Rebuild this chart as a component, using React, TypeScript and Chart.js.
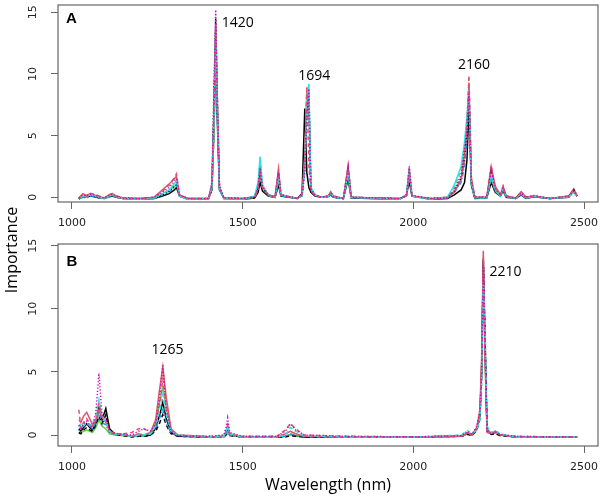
import React, { useEffect, useRef } from "react";
import { Chart, registerables } from "chart.js";

Chart.register(...registerables);

// ---------- tick labels ----------
const xTickValues = [1000, 1500, 2000, 2500];
const yTickValues = [0, 5, 10, 15];

// ---------- panel A ----------
const wavelengthA = [
  1020, 1032, 1042, 1054, 1066, 1080, 1095, 1108, 1118, 1130,
  1150, 1200, 1240, 1265, 1285, 1300, 1306, 1315, 1340, 1400,
  1410, 1416, 1421, 1426, 1432, 1445, 1500, 1535, 1545, 1551,
  1558, 1575, 1595, 1605, 1612, 1660, 1674, 1682, 1688, 1694,
  1700, 1712, 1730, 1750, 1758, 1766, 1795, 1809, 1818, 1960,
  1980, 1988, 1996, 2050, 2100, 2120, 2140, 2150, 2157, 2163,
  2170, 2180, 2215, 2228, 2240, 2255, 2263, 2272, 2300, 2316,
  2330, 2354, 2400, 2455, 2470, 2480,
];

const importanceA1 = [
  -0.15, 0.05, 0.0, 0.1, 0.05, -0.05, -0.1, 0.05, 0.1, 0.0,
  -0.1, -0.15, -0.1, 0.1, 0.3, 0.6, 0.8, 0.1, -0.15, -0.1,
  0.6, 5.5, 11.5, 6.0, 0.6, -0.1, -0.15, -0.05, 0.4, 1.2,
  0.5, 0.1, 0.0, 1.0, 0.1, -0.1, 0.3, 7.2, 2.0, 0.8,
  0.4, 0.1, 0.0, 0.05, 0.2, 0.0, -0.1, 1.5, -0.05, -0.15,
  0.2, 1.3, 0.1, -0.15, -0.1, 0.2, 0.6, 1.2, 3.0, 7.2,
  1.0, -0.1, -0.05, 1.2, 0.4, 0.1, 0.5, 0.0, -0.1, 0.2,
  -0.1, 0.05, -0.1, 0.0, 0.5, 0.1,
];
const importanceA2 = [
  -0.1, 0.25, 0.1, 0.3, 0.25, 0.1, -0.05, 0.2, 0.3, 0.1,
  -0.05, -0.1, 0.0, 0.5, 1.0, 1.6, 1.9, 0.2, -0.1, -0.1,
  1.0, 7.0, 14.0, 8.0, 0.8, -0.05, -0.1, 0.0, 0.7, 2.2,
  0.8, 0.2, 0.0, 2.2, 0.2, -0.1, 0.2, 3.0, 9.0, 2.5,
  0.5, 0.2, 0.0, 0.1, 0.4, 0.1, -0.1, 2.6, 0.0, -0.1,
  0.1, 2.0, 0.1, -0.1, -0.05, 0.5, 1.5, 3.0, 5.7, 9.9,
  1.5, 0.0, 0.0, 2.6, 0.8, 0.2, 0.9, 0.1, -0.05, 0.4,
  0.0, 0.1, -0.1, 0.1, 0.6, 0.1,
];
const importanceA3 = [
  -0.1, 0.1, 0.05, 0.2, 0.15, 0.0, -0.1, 0.1, 0.2, 0.05,
  -0.1, -0.15, -0.05, 0.3, 0.6, 1.1, 1.3, 0.1, -0.15, -0.1,
  0.9, 6.5, 13.5, 7.0, 0.7, -0.1, -0.15, 0.1, 1.2, 3.3,
  1.0, 0.2, 0.0, 1.6, 0.2, -0.1, 0.1, 2.5, 8.0, 9.2,
  0.8, 0.2, 0.0, 0.05, 0.3, 0.05, -0.1, 2.0, 0.0, -0.15,
  0.2, 2.2, 0.1, -0.15, 0.0, 1.0, 2.5, 4.5, 6.5, 8.7,
  1.2, 0.0, -0.05, 1.8, 0.6, 0.1, 0.7, 0.1, -0.1, 0.3,
  -0.05, 0.1, -0.1, 0.05, 0.4, 0.1,
];
const importanceA4 = [
  -0.05, 0.2, 0.1, 0.25, 0.2, 0.05, -0.05, 0.15, 0.25, 0.05,
  -0.1, -0.1, 0.0, 0.4, 0.8, 1.3, 1.5, 0.15, -0.1, -0.1,
  1.2, 8.0, 15.2, 7.5, 0.9, -0.05, -0.1, 0.05, 0.8, 2.4,
  0.9, 0.2, 0.05, 2.0, 0.2, -0.1, 0.2, 2.0, 6.5, 8.8,
  0.7, 0.2, 0.0, 0.1, 0.35, 0.05, -0.1, 2.4, 0.0, -0.1,
  0.15, 2.5, 0.15, -0.1, -0.05, 0.6, 1.8, 4.0, 5.5, 8.4,
  1.3, 0.0, 0.0, 2.2, 0.7, 0.15, 0.8, 0.1, -0.05, 0.35,
  0.0, 0.15, -0.1, 0.1, 0.5, 0.1,
];
const importanceA5 = [
  -0.15, 0.0, -0.05, 0.1, 0.05, -0.05, -0.1, 0.0, 0.1, 0.0,
  -0.1, -0.15, -0.1, 0.2, 0.4, 0.8, 1.0, 0.1, -0.15, -0.1,
  0.8, 6.0, 12.5, 6.5, 0.6, -0.1, -0.15, 0.0, 0.9, 2.8,
  0.8, 0.15, 0.0, 1.3, 0.15, -0.1, 0.15, 2.2, 7.0, 8.5,
  0.6, 0.15, 0.0, 0.05, 0.25, 0.0, -0.1, 1.8, -0.05, -0.15,
  0.15, 1.8, 0.1, -0.15, -0.05, 0.4, 1.2, 2.5, 4.5, 8.0,
  1.1, -0.05, -0.05, 1.5, 0.5, 0.1, 0.6, 0.05, -0.1, 0.25,
  -0.05, 0.05, -0.1, 0.0, 0.45, 0.05,
];
const importanceA6 = [
  -0.1, 0.05, 0.0, 0.15, 0.1, 0.0, -0.1, 0.05, 0.15, 0.0,
  -0.1, -0.15, -0.05, 0.25, 0.5, 0.9, 1.1, 0.1, -0.15, -0.1,
  0.7, 5.0, 13.0, 7.5, 0.7, -0.1, -0.15, 0.0, 0.6, 2.0,
  0.7, 0.15, 0.0, 1.5, 0.15, -0.1, 0.1, 2.6, 7.5, 8.2,
  0.7, 0.15, 0.0, 0.05, 0.3, 0.05, -0.1, 1.9, 0.0, -0.15,
  0.15, 2.1, 0.1, -0.15, 0.0, 0.8, 2.2, 3.8, 6.0, 8.5,
  1.0, -0.05, -0.05, 1.6, 0.5, 0.1, 0.5, 0.05, -0.1, 0.25,
  -0.05, 0.05, -0.1, 0.05, 0.4, 0.05,
];
const importanceA7 = [
  -0.1, 0.1, 0.05, 0.15, 0.1, 0.0, -0.05, 0.1, 0.15, 0.05,
  -0.05, -0.1, -0.05, 0.2, 0.5, 0.9, 1.0, 0.1, -0.1, -0.1,
  1.1, 9.0, 14.5, 6.8, 0.8, -0.05, -0.1, 0.0, 0.8, 2.5,
  0.8, 0.15, 0.0, 1.8, 0.2, -0.1, 0.2, 2.8, 7.0, 8.0,
  0.6, 0.15, 0.0, 0.05, 0.3, 0.05, -0.1, 2.2, 0.0, -0.1,
  0.2, 1.9, 0.1, -0.1, 0.0, 0.5, 1.6, 3.2, 5.0, 8.0,
  1.2, 0.0, 0.0, 2.0, 0.7, 0.15, 0.7, 0.1, -0.05, 0.3,
  0.0, 0.1, -0.1, 0.05, 0.6, 0.1,
];
const importanceA8 = [
  -0.05, 0.3, 0.15, 0.3, 0.2, 0.05, -0.05, 0.2, 0.3, 0.1,
  -0.05, -0.1, 0.0, 0.6, 1.1, 1.5, 1.7, 0.2, -0.1, -0.1,
  0.9, 6.8, 13.8, 7.8, 0.8, -0.05, -0.1, 0.05, 0.7, 2.0,
  0.9, 0.2, 0.05, 2.3, 0.2, -0.1, 0.25, 3.2, 8.6, 7.5,
  0.6, 0.2, 0.0, 0.1, 0.45, 0.1, -0.1, 2.5, 0.0, -0.1,
  0.1, 2.4, 0.1, -0.1, 0.0, 0.4, 1.4, 3.5, 5.8, 9.3,
  1.6, 0.0, 0.0, 2.5, 0.9, 0.2, 0.9, 0.1, -0.05, 0.45,
  0.0, 0.1, -0.1, 0.1, 0.7, 0.1,
];

// ---------- panel B ----------
const wavelengthB = [
  1020, 1026, 1034, 1043, 1052, 1060, 1070, 1079, 1088, 1099,
  1110, 1125, 1150, 1175, 1195, 1210, 1230, 1245, 1256, 1266,
  1276, 1290, 1310, 1400, 1445, 1451, 1456, 1462, 1500, 1600,
  1625, 1640, 1655, 1680, 1800, 2000, 2140, 2158, 2172, 2186,
  2195, 2200, 2205, 2210, 2216, 2228, 2240, 2255, 2300, 2400,
  2480,
];

const importanceB1 = [
  0.5, 0.3, 0.6, 0.9, 0.6, 0.4, 0.9, 2.2, 1.2, 2.1,
  0.5, 0.1, 0.0, -0.1, -0.1, -0.1, 0.0, 0.5, 1.5, 2.6,
  1.3, 0.2, -0.1, -0.15, -0.1, 0.2, 0.4, 0.0, -0.15, -0.15,
  -0.1, 0.0, -0.05, -0.15, -0.15, -0.15, -0.1, 0.1, 0.05, 0.5,
  1.5, 5.0, 14.0, 7.0, 0.3, 0.1, 0.15, 0.0, -0.15, -0.15,
  -0.15,
];
const importanceB2 = [
  1.2, 1.0, 1.5, 1.8, 1.3, 0.8, 1.2, 2.0, 1.4, 1.0,
  0.3, 0.1, 0.05, -0.1, 0.1, 0.0, 0.2, 1.2, 3.5, 5.4,
  3.0, 0.5, 0.0, -0.15, -0.1, 0.3, 0.8, 0.1, -0.15, -0.15,
  0.1, 0.3, 0.1, -0.1, -0.15, -0.15, -0.1, 0.2, 0.0, 0.6,
  2.0, 6.0, 14.6, 6.0, 0.2, 0.1, 0.3, 0.0, -0.15, -0.15,
  -0.15,
];
const importanceB3 = [
  0.8, 0.4, 0.9, 1.1, 0.8, 0.6, 1.8, 4.9, 1.6, 1.3,
  0.4, 0.15, 0.05, 0.0, 0.3, 0.5, 0.3, 0.9, 2.8, 5.6,
  2.0, 0.3, -0.05, -0.1, 0.0, 0.6, 1.35, 0.2, -0.1, -0.1,
  0.3, 0.9, 0.4, 0.0, -0.1, -0.15, -0.05, 0.3, 0.05, 0.7,
  1.8, 5.0, 13.5, 7.5, 0.4, 0.1, 0.25, 0.05, -0.1, -0.15,
  -0.15,
];
const importanceB4 = [
  2.0, 0.6, 1.0, 1.3, 0.9, 0.5, 1.1, 2.5, 1.5, 1.4,
  0.3, 0.1, 0.1, 0.2, 0.5, 0.5, 0.2, 0.8, 2.2, 4.4,
  2.4, 0.4, 0.0, -0.1, -0.1, 0.2, 0.5, 0.0, -0.1, -0.1,
  0.4, 0.9, 0.5, 0.0, -0.1, -0.15, -0.1, 0.1, 0.0, 0.5,
  1.6, 4.5, 12.8, 8.0, 0.5, 0.1, 0.2, 0.0, -0.1, -0.15,
  -0.15,
];
const importanceB5 = [
  0.6, 0.9, 0.7, 1.0, 0.8, 0.9, 1.6, 2.8, 1.5, 1.1,
  0.3, 0.1, 0.0, -0.1, 0.0, 0.0, 0.1, 0.7, 1.8, 3.2,
  1.6, 0.3, 0.0, -0.15, -0.1, 0.3, 0.7, 0.1, -0.15, -0.15,
  0.0, 0.6, 0.3, -0.05, -0.15, -0.15, 0.0, 0.35, 0.1, 0.4,
  1.2, 4.0, 12.0, 9.0, 0.7, 0.2, 0.35, 0.1, -0.15, -0.15,
  -0.15,
];
const importanceB6 = [
  0.1, 0.2, 0.3, 0.4, 0.3, 0.2, 0.6, 1.2, 0.7, 0.5,
  0.1, 0.0, -0.05, -0.1, -0.1, -0.1, 0.1, 0.9, 2.5, 3.8,
  2.2, 0.4, 0.0, -0.15, -0.15, 0.0, 0.2, 0.0, -0.15, -0.15,
  -0.1, 0.0, -0.05, -0.1, -0.15, -0.15, -0.1, 0.1, 0.0, 0.4,
  1.4, 5.5, 13.0, 6.5, 0.3, 0.1, 0.15, 0.0, -0.15, -0.15,
  -0.15,
];
const importanceB7 = [
  0.3, 0.5, 0.8, 0.9, 0.7, 0.5, 1.0, 1.8, 1.0, 0.8,
  0.2, 0.05, 0.0, -0.1, -0.05, -0.05, 0.1, 0.5, 1.3, 2.0,
  1.0, 0.2, -0.05, -0.15, -0.15, 0.1, 0.4, 0.0, -0.15, -0.15,
  -0.1, 0.1, 0.0, -0.1, -0.15, -0.15, -0.1, 0.2, 0.0, 0.5,
  1.6, 5.0, 13.2, 7.2, 0.4, 0.15, 0.3, 0.05, -0.15, -0.15,
  -0.15,
];
const importanceB8 = [
  0.2, 0.1, 0.4, 0.6, 0.4, 0.3, 0.8, 1.5, 0.9, 1.6,
  0.3, 0.05, -0.05, -0.15, -0.1, -0.1, 0.0, 0.3, 0.9, 1.6,
  0.8, 0.1, -0.1, -0.15, -0.15, 0.0, 0.1, -0.05, -0.15, -0.15,
  -0.15, -0.05, -0.1, -0.15, -0.15, -0.15, -0.1, 0.05, -0.05, 0.4,
  1.3, 4.5, 13.8, 7.8, 0.3, 0.05, 0.1, -0.05, -0.15, -0.15,
  -0.15,
];

// ---------- text labels (anchored in data units) ----------
const labelsA = [
  { text: "A", x: 998, y: 14.5, align: "center", bold: true },
  { text: "1420", x: 1439, y: 14.1, align: "left", bold: false },
  { text: "1694", x: 1710, y: 9.85, align: "center", bold: false },
  { text: "2160", x: 2178, y: 10.7, align: "center", bold: false },
];
const labelsB = [
  { text: "B", x: 1000, y: 13.75, align: "center", bold: true },
  { text: "1265", x: 1280, y: 6.75, align: "center", bold: false },
  { text: "2210", x: 2223, y: 12.95, align: "left", bold: false },
];

// ---------- styles ----------
const SOLID: number[] = [];
const DASHED = [4, 3];
const DOTTED = [1.2, 2];
const DOTDASH = [1, 2, 4, 2];

// first entry is drawn on top
const seriesA = [
  { values: importanceA4, color: "#CD0BBC", dash: DOTTED },
  { values: importanceA2, color: "#DF536B", dash: DASHED },
  { values: importanceA3, color: "#28E2E5", dash: SOLID },
  { values: importanceA7, color: "#000000", dash: DOTTED },
  { values: importanceA5, color: "#2297E6", dash: DOTDASH },
  { values: importanceA8, color: "#DF536B", dash: SOLID },
  { values: importanceA6, color: "#61D04F", dash: DASHED },
  { values: importanceA1, color: "#000000", dash: SOLID },
];
const seriesB = [
  { values: importanceB3, color: "#CD0BBC", dash: DOTTED },
  { values: importanceB5, color: "#28E2E5", dash: DASHED },
  { values: importanceB2, color: "#DF536B", dash: SOLID },
  { values: importanceB7, color: "#2297E6", dash: DOTDASH },
  { values: importanceB8, color: "#000000", dash: DASHED },
  { values: importanceB4, color: "#DF536B", dash: DASHED },
  { values: importanceB6, color: "#61D04F", dash: SOLID },
  { values: importanceB1, color: "#000000", dash: SOLID },
];

const AXIS_GRAY = "#666666";
const TICK_FONT = { family: "'DejaVu Sans', sans-serif", size: 11 };

const decorPlugin = {
  id: "panelDecor",
  afterDraw(chart: any, _args: any, opts: any) {
    const ctx = chart.ctx;
    const { left, top, right, bottom } = chart.chartArea;
    const xs = chart.scales.x;
    const ys = chart.scales.y;
    ctx.save();
    ctx.strokeStyle = AXIS_GRAY;
    ctx.lineWidth = 1.2;
    ctx.strokeRect(left, top, right - left, bottom - top);
    ctx.textBaseline = "middle";
    ctx.fillStyle = "#000";
    for (const l of opts.labels || []) {
      ctx.font = l.bold
        ? "bold 15px 'Liberation Sans', Arial, sans-serif"
        : "14px 'Open Sans', sans-serif";
      ctx.textAlign = l.align;
      ctx.fillText(l.text, xs.getPixelForValue(l.x), ys.getPixelForValue(l.y));
    }
    if (opts.yTitle) {
      ctx.translate(12, 250);
      ctx.rotate(-Math.PI / 2);
      ctx.textAlign = "center";
      ctx.font = "16px 'Open Sans', sans-serif";
      ctx.fillText(opts.yTitle, 0, 0);
    }
    ctx.restore();
  },
};

function makeConfig(p: {
  wavelength: number[];
  series: { values: number[]; color: string; dash: number[] }[];
  yMin: number;
  yMax: number;
  padTop: number;
  padBottom: number;
  xAxisHeight: number;
  labels: any[];
  xTitle?: string;
  yTitle?: string;
}): any {
  return {
    type: "line",
    data: {
      datasets: p.series.map((s) => ({
        data: p.wavelength.map((x, i) => ({ x, y: s.values[i] })),
        borderColor: s.color,
        borderDash: s.dash,
        borderWidth: 1.5,
        pointRadius: 0,
        tension: 0,
        fill: false,
      })),
    },
    options: {
      animation: false,
      responsive: false,
      events: [],
      layout: { padding: { top: p.padTop, right: 4, bottom: p.padBottom, left: 0 } },
      plugins: {
        legend: { display: false },
        tooltip: { enabled: false },
        panelDecor: { labels: p.labels, yTitle: p.yTitle },
      },
      scales: {
        x: {
          type: "linear",
          min: 959,
          max: 2541,
          afterBuildTicks: (s: any) => {
            s.ticks = xTickValues.map((v) => ({ value: v }));
          },
          afterFit: (s: any) => {
            s.height = p.xAxisHeight;
            s.paddingLeft = 0;
            s.paddingRight = 0;
          },
          border: { display: false },
          grid: {
            drawOnChartArea: false,
            drawTicks: true,
            tickLength: 7,
            tickColor: AXIS_GRAY,
            tickWidth: 1,
          },
          ticks: {
            padding: 8,
            color: "#222",
            font: TICK_FONT,
            maxRotation: 0,
            autoSkip: false,
            callback: (v: any) => String(v),
          },
          title: {
            display: !!p.xTitle,
            text: p.xTitle || "",
            color: "#000",
            font: { family: "'Open Sans', sans-serif", size: 16 },
            padding: { top: 0, bottom: 3 },
          },
        },
        y: {
          type: "linear",
          min: p.yMin,
          max: p.yMax,
          afterBuildTicks: (s: any) => {
            s.ticks = yTickValues.map((v) => ({ value: v }));
          },
          afterFit: (s: any) => {
            s.width = 58;
            s.paddingTop = 0;
            s.paddingBottom = 0;
          },
          border: { display: false },
          grid: {
            drawOnChartArea: false,
            drawTicks: true,
            tickLength: 7,
            tickColor: AXIS_GRAY,
            tickWidth: 1,
          },
          ticks: {
            padding: 11,
            color: "#222",
            font: TICK_FONT,
            minRotation: 90,
            maxRotation: 90,
            crossAlign: "center",
            autoSkip: false,
            callback: (v: any) => String(v),
          },
        },
      },
    },
    plugins: [decorPlugin],
  };
}

export default function App() {
  const refA = useRef<HTMLCanvasElement>(null);
  const refB = useRef<HTMLCanvasElement>(null);

  useEffect(() => {
    const chartA = new Chart(
      refA.current!,
      makeConfig({
        wavelength: wavelengthA,
        series: seriesA,
        yMin: -0.38,
        yMax: 15.59,
        padTop: 5,
        padBottom: 266,
        xAxisHeight: 30,
        labels: labelsA,
        yTitle: "Importance",
      })
    );
    const chartB = new Chart(
      refB.current!,
      makeConfig({
        wavelength: wavelengthB,
        series: seriesB,
        yMin: -0.87,
        yMax: 15.13,
        padTop: 244,
        padBottom: 0,
        xAxisHeight: 52,
        labels: labelsB,
        xTitle: "Wavelength (nm)",
      })
    );
    return () => {
      chartA.destroy();
      chartB.destroy();
    };
  }, []);

  const canvasStyle: React.CSSProperties = {
    position: "absolute",
    left: 0,
    top: 0,
    width: 602,
    height: 498,
  };

  return (
    <div
      style={{
        position: "fixed",
        left: 0,
        top: 0,
        width: 602,
        height: 498,
        background: "#ffffff",
      }}
    >
      <canvas ref={refA} width={602} height={498} style={canvasStyle} />
      <canvas ref={refB} width={602} height={498} style={canvasStyle} />
    </div>
  );
}
